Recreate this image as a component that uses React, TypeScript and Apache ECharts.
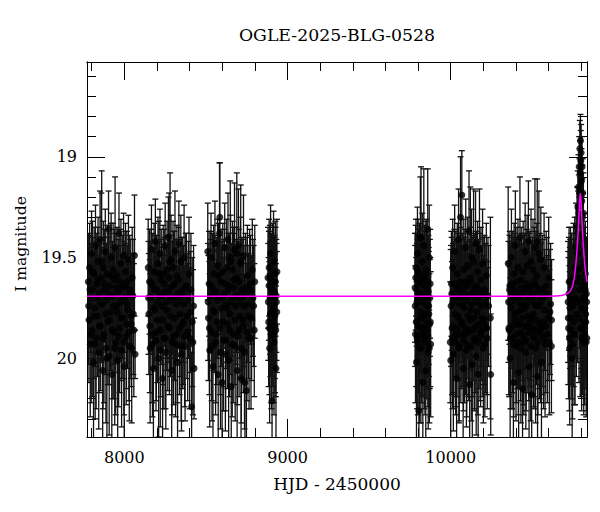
import React, { useEffect, useRef } from "react";
import * as echarts from "echarts";

// [HJD-2450000, I mag, error]
const season1 = [[7779,19.62,0.24],[7783,19.81,0.31],[7787,19.55,0.22],[7791,19.93,0.36],[7795,19.70,0.27],[7799,19.48,0.21],[7803,19.86,0.33],[7807,19.66,0.26],[7811,20.02,0.40],[7815,19.58,0.23],[7819,19.75,0.29],[7823,19.44,0.20],[7827,19.90,0.35],[7831,19.63,0.25],[7835,19.79,0.30],[7839,19.52,0.22],[7843,19.97,0.38],[7847,19.68,0.27],[7851,19.41,0.24],[7855,19.84,0.32],[7859,19.60,0.42],[7863,19.73,0.28],[7867,20.06,0.42],[7871,19.55,0.23],[7875,19.88,0.34],[7879,19.66,0.26],[7883,19.47,0.21],[7887,19.95,0.37],[7891,19.71,0.28],[7895,19.58,0.24],[7899,19.82,0.31],[7903,19.36,0.19],[7907,19.99,0.39],[7911,19.64,0.26],[7915,19.77,0.29],[7919,19.50,0.22],[7923,20.08,0.43],[7927,19.69,0.27],[7931,19.56,0.23],[7935,19.87,0.33],[7939,19.61,0.25],[7943,19.45,0.35],[7947,19.92,0.36],[7951,19.74,0.28],[7955,19.59,0.24],[7959,20.01,0.40],[7963,19.67,0.26],[7967,19.38,0.20],[7971,19.85,0.32],[7975,19.72,0.28],[7979,19.53,0.22],[7983,19.96,0.38],[7987,19.65,0.26],[7991,19.80,0.30],[7995,19.49,0.21],[7999,20.04,0.41],[8003,19.70,0.27],[8007,19.57,0.24],[8011,19.89,0.34],[8015,19.62,0.25],[8020,19.76,0.29],[8025,19.51,0.22],[8030,19.94,0.37],[8036,19.68,0.27],[8042,19.83,0.31],[8048,19.60,0.25],[8055,19.78,0.30],[8062,19.49,0.30],[8066,19.98,0.12]];
const season1b = [[7781,19.74,0.29],[7789,19.66,0.27],[7797,19.88,0.34],[7805,19.57,0.25],[7813,19.79,0.31],[7821,19.93,0.37],[7829,19.70,0.28],[7837,19.61,0.26],[7845,19.84,0.33],[7853,19.72,0.29],[7861,19.52,0.45],[7869,19.90,0.35],[7877,19.63,0.27],[7885,19.78,0.30],[7893,20.00,0.40],[7901,19.68,0.28],[7909,19.81,0.32],[7917,19.59,0.26],[7925,19.86,0.34],[7933,19.74,0.29],[7941,19.95,0.38],[7949,19.65,0.27],[7957,19.77,0.30],[7965,19.89,0.35],[7973,19.62,0.26],[7981,19.80,0.31],[7989,19.71,0.29],[7997,19.92,0.36],[8005,19.64,0.27],[8013,19.83,0.32],[8018,19.73,0.29],[8028,19.87,0.34],[8033,19.66,0.27],[8040,19.79,0.31],[8045,19.95,0.37],[8052,19.69,0.28],[8058,19.86,0.33]];
const season2 = [[8146,19.55,0.24],[8150,19.78,0.30],[8154,19.62,0.26],[8158,19.95,0.37],[8162,19.70,0.28],[8166,19.46,0.22],[8170,19.88,0.34],[8174,19.64,0.26],[8178,20.05,0.41],[8182,19.57,0.24],[8186,19.76,0.29],[8190,19.42,0.21],[8194,19.91,0.35],[8198,19.66,0.27],[8202,19.81,0.31],[8206,19.53,0.23],[8210,20.00,0.39],[8214,19.69,0.27],[8218,19.48,0.22],[8222,19.86,0.33],[8226,19.61,0.25],[8230,19.74,0.29],[8234,20.10,0.44],[8238,19.58,0.24],[8242,19.90,0.35],[8246,19.67,0.27],[8250,19.44,0.21],[8254,19.97,0.38],[8258,19.72,0.28],[8262,19.56,0.24],[8266,19.84,0.32],[8270,19.40,0.20],[8274,19.60,0.42],[8278,19.65,0.26],[8282,19.79,0.30],[8286,19.51,0.22],[8290,20.06,0.42],[8294,19.70,0.28],[8298,19.55,0.23],[8302,19.89,0.34],[8306,19.63,0.26],[8310,19.47,0.30],[8314,19.93,0.36],[8318,19.73,0.28],[8322,19.59,0.25],[8326,20.02,0.40],[8330,19.68,0.27],[8334,19.43,0.21],[8338,19.85,0.33],[8342,19.71,0.28],[8346,19.52,0.23],[8350,19.98,0.38],[8355,19.66,0.26],[8360,19.82,0.31],[8366,19.50,0.26],[8372,19.94,0.37],[8380,19.64,0.26],[8388,19.87,0.34],[8396,19.58,0.28],[8404,19.77,0.30],[8412,20.24,0.27],[8420,19.92,0.36],[8427,20.05,0.25]];
const season2b = [[8148,19.70,0.28],[8156,19.84,0.33],[8164,19.62,0.26],[8172,19.93,0.36],[8180,19.75,0.30],[8188,19.66,0.27],[8196,19.87,0.34],[8204,19.72,0.29],[8212,19.58,0.26],[8220,19.96,0.38],[8228,19.69,0.28],[8236,19.81,0.32],[8244,19.63,0.27],[8252,19.90,0.35],[8260,19.76,0.30],[8268,19.67,0.28],[8276,19.85,0.33],[8280,19.52,0.44],[8284,19.71,0.29],[8292,19.92,0.36],[8300,19.64,0.27],[8308,19.80,0.31],[8316,19.70,0.29],[8324,19.88,0.34],[8332,19.61,0.26],[8340,19.78,0.31],[8348,19.94,0.37],[8352,19.68,0.28],[8358,19.83,0.32],[8363,19.73,0.29],[8369,19.89,0.35],[8376,19.65,0.27],[8384,19.79,0.31],[8392,19.71,0.29],[8400,19.90,0.35],[8408,19.66,0.28],[8416,19.82,0.32],[8424,19.74,0.30]];
const season3 = [[8511,19.47,0.24],[8515,19.80,0.31],[8519,19.63,0.26],[8523,19.96,0.38],[8527,19.69,0.28],[8531,19.50,0.22],[8535,19.87,0.34],[8539,19.65,0.27],[8543,20.04,0.41],[8547,19.58,0.24],[8551,19.77,0.30],[8555,19.43,0.21],[8559,19.92,0.36],[8563,19.67,0.27],[8567,19.82,0.31],[8571,19.54,0.23],[8575,20.08,0.42],[8579,19.70,0.28],[8583,19.38,0.35],[8587,19.85,0.33],[8591,19.62,0.26],[8595,19.75,0.29],[8599,20.12,0.45],[8603,19.57,0.24],[8607,19.91,0.35],[8611,19.68,0.27],[8615,19.45,0.22],[8619,19.98,0.38],[8623,19.73,0.29],[8627,19.55,0.24],[8631,19.83,0.32],[8635,19.41,0.23],[8639,20.01,0.40],[8643,19.64,0.26],[8647,19.78,0.30],[8651,19.52,0.23],[8655,20.14,0.45],[8659,19.71,0.28],[8663,19.56,0.24],[8667,19.88,0.34],[8671,19.61,0.26],[8675,19.46,0.33],[8679,19.94,0.37],[8683,19.74,0.29],[8687,19.60,0.25],[8691,20.06,0.42],[8695,19.69,0.27],[8699,19.44,0.28],[8703,19.86,0.33],[8707,19.72,0.28],[8711,19.53,0.23],[8715,20.10,0.44],[8720,19.66,0.26],[8725,19.81,0.31],[8730,19.49,0.30],[8736,19.97,0.38],[8742,19.65,0.27],[8748,20.16,0.46],[8754,19.59,0.25],[8760,19.79,0.31],[8768,19.63,0.27],[8776,19.90,0.35],[8784,19.56,0.25],[8792,19.74,0.30],[8799,19.62,0.28]];
const season3b = [[8513,19.72,0.29],[8521,19.85,0.33],[8529,19.64,0.27],[8537,19.94,0.37],[8545,19.76,0.30],[8553,19.67,0.28],[8561,19.88,0.34],[8569,19.71,0.29],[8577,19.59,0.26],[8585,19.30,0.27],[8589,19.97,0.38],[8597,19.70,0.28],[8605,19.82,0.32],[8613,19.63,0.27],[8621,19.91,0.35],[8629,19.75,0.30],[8637,19.66,0.28],[8645,19.86,0.33],[8649,19.50,0.38],[8653,19.72,0.29],[8661,19.93,0.36],[8669,19.65,0.27],[8677,19.81,0.32],[8685,19.69,0.28],[8689,19.48,0.40],[8693,19.89,0.34],[8701,19.62,0.26],[8709,19.79,0.31],[8713,19.52,0.38],[8717,19.95,0.37],[8722,19.70,0.29],[8728,19.84,0.33],[8733,19.74,0.30],[8739,20.12,0.42],[8745,19.68,0.28],[8751,19.87,0.34],[8757,19.73,0.29],[8764,19.90,0.35],[8772,19.66,0.27],[8780,19.80,0.31],[8788,19.70,0.29],[8796,19.86,0.33]];
const season4 = [[8880,19.60,0.25],[8884,19.82,0.32],[8887,19.55,0.24],[8890,19.95,0.37],[8893,19.70,0.28],[8896,19.48,0.24],[8899,19.88,0.34],[8902,19.65,0.27],[8905,20.21,0.45],[8908,19.58,0.25],[8911,19.76,0.30],[8914,19.52,0.25],[8917,19.92,0.36],[8920,19.68,0.28],[8923,19.84,0.33],[8926,19.62,0.27],[8929,20.05,0.41],[8932,19.72,0.29],[8935,19.57,0.26]];
const season4b = [[8882,19.72,0.29],[8886,19.64,0.27],[8889,19.85,0.33],[8892,19.60,0.26],[8895,19.78,0.31],[8898,19.70,0.28],[8901,19.90,0.35],[8904,19.66,0.27],[8907,19.82,0.32],[8910,19.62,0.27],[8913,19.74,0.30],[8916,19.88,0.34],[8919,19.67,0.28],[8922,19.79,0.31],[8925,19.58,0.26],[8928,19.86,0.33],[8931,19.69,0.28],[8934,19.77,0.30]];
const season5 = [[9781,19.65,0.27],[9784,19.88,0.34],[9787,19.55,0.24],[9790,20.02,0.40],[9793,19.72,0.29],[9796,19.48,0.23],[9799,19.92,0.36],[9802,19.62,0.26],[9805,20.26,0.45],[9808,19.58,0.25],[9811,19.80,0.31],[9814,19.40,0.30],[9817,19.95,0.37],[9820,19.68,0.28],[9823,19.85,0.33],[9826,19.52,0.24],[9829,20.12,0.44],[9832,19.70,0.28],[9835,19.44,0.38],[9838,19.90,0.35],[9841,19.60,0.26],[9844,19.78,0.30],[9847,20.06,0.42],[9850,19.56,0.25],[9853,19.86,0.34],[9856,19.66,0.27],[9859,19.36,0.30],[9862,19.97,0.38],[9865,19.74,0.29],[9868,19.50,0.26],[9871,19.83,0.32],[9874,19.63,0.27],[9877,19.93,0.36]];
const season5b = [[9782,19.74,0.30],[9785,19.60,0.26],[9788,19.82,0.32],[9791,19.66,0.28],[9794,19.90,0.35],[9797,19.70,0.29],[9800,19.57,0.26],[9803,19.84,0.33],[9806,19.68,0.28],[9809,19.95,0.37],[9812,19.63,0.27],[9815,19.77,0.30],[9818,19.40,0.35],[9821,19.88,0.34],[9824,19.72,0.29],[9827,19.61,0.26],[9830,19.86,0.33],[9833,19.69,0.28],[9836,19.80,0.31],[9839,19.64,0.27],[9842,19.92,0.36],[9845,19.71,0.29],[9848,19.58,0.26],[9851,19.83,0.32],[9854,19.74,0.30],[9857,19.62,0.27],[9860,19.89,0.35],[9863,19.67,0.28],[9866,19.78,0.31],[9869,19.95,0.37],[9872,19.70,0.29],[9875,19.82,0.32]];
const season6 = [[9997,19.92,0.30],[10000,20.01,0.55],[10004,19.63,0.26],[10008,19.85,0.33],[10012,19.55,0.24],[10016,19.98,0.38],[10020,19.70,0.28],[10024,19.47,0.23],[10028,19.89,0.35],[10032,19.64,0.27],[10036,20.10,0.44],[10040,19.58,0.25],[10044,19.79,0.31],[10048,19.41,0.25],[10052,19.94,0.37],[10056,19.67,0.28],[10060,19.30,0.30],[10064,19.83,0.32],[10068,19.19,0.22],[10072,19.73,0.29],[10076,20.05,0.42],[10080,19.56,0.25],[10084,19.88,0.34],[10088,19.62,0.26],[10092,19.45,0.24],[10096,19.96,0.38],[10100,19.71,0.29],[10104,19.54,0.24],[10108,19.86,0.33],[10112,19.37,0.30],[10116,20.13,0.45],[10120,19.60,0.45],[10124,19.76,0.30],[10128,19.50,0.24],[10132,20.03,0.41],[10136,19.68,0.28],[10140,19.52,0.36],[10144,19.91,0.35],[10148,19.65,0.27],[10152,19.43,0.26],[10156,19.99,0.39],[10160,19.72,0.29],[10164,19.57,0.25],[10168,20.08,0.43],[10172,19.69,0.28],[10176,19.46,0.30],[10180,19.87,0.34],[10185,19.61,0.26],[10190,19.80,0.31],[10195,19.53,0.27],[10200,19.95,0.37],[10206,19.66,0.27],[10212,19.84,0.33],[10218,19.59,0.26],[10224,19.90,0.35],[10232,19.74,0.30],[10243,19.80,0.50],[10245,20.08,0.30]];
const season6b = [[10002,19.74,0.30],[10006,19.68,0.28],[10010,19.90,0.35],[10014,19.72,0.29],[10018,19.84,0.33],[10022,19.63,0.27],[10026,19.78,0.31],[10030,19.92,0.36],[10034,19.70,0.29],[10038,19.86,0.33],[10042,19.66,0.28],[10046,19.80,0.31],[10050,19.95,0.37],[10054,19.73,0.29],[10058,19.62,0.27],[10062,19.88,0.34],[10066,19.70,0.29],[10070,19.82,0.32],[10074,19.65,0.27],[10078,19.91,0.35],[10082,19.75,0.30],[10086,19.68,0.28],[10090,19.85,0.33],[10094,19.71,0.29],[10098,19.93,0.36],[10102,19.64,0.27],[10106,19.79,0.31],[10110,19.87,0.34],[10114,19.69,0.28],[10118,19.81,0.32],[10122,19.62,0.27],[10126,19.94,0.37],[10130,19.73,0.29],[10134,19.86,0.33],[10138,19.67,0.28],[10142,19.80,0.31],[10146,19.90,0.35],[10150,19.70,0.29],[10154,19.84,0.33],[10158,19.64,0.27],[10162,19.77,0.30],[10166,19.92,0.36],[10170,19.71,0.29],[10174,19.83,0.32],[10178,19.66,0.28],[10183,19.89,0.35],[10188,19.74,0.30],[10193,19.86,0.33],[10198,19.68,0.28],[10203,19.81,0.32],[10209,19.93,0.36],[10215,19.72,0.29],[10221,19.85,0.33],[10228,19.69,0.29]];
const season7 = [[10352,19.53,0.38],[10356,19.85,0.33],[10360,19.66,0.27],[10364,20.00,0.40],[10368,19.72,0.29],[10372,19.50,0.24],[10376,19.90,0.35],[10380,19.63,0.26],[10384,20.12,0.44],[10388,19.58,0.25],[10392,19.78,0.31],[10396,19.44,0.27],[10400,19.94,0.37],[10404,19.68,0.28],[10408,19.83,0.32],[10412,19.55,0.24],[10416,20.07,0.42],[10420,19.71,0.29],[10424,19.40,0.30],[10428,19.87,0.34],[10432,19.61,0.26],[10436,19.76,0.30],[10440,20.15,0.46],[10444,19.57,0.25],[10448,19.92,0.36],[10452,19.65,0.27],[10456,19.47,0.24],[10460,19.97,0.38],[10464,19.73,0.29],[10468,19.54,0.25],[10472,19.84,0.33],[10476,19.42,0.30],[10480,20.04,0.41],[10484,19.64,0.27],[10488,19.80,0.31],[10492,19.52,0.26],[10496,20.18,0.47],[10500,19.70,0.28],[10504,19.56,0.25],[10508,19.89,0.35],[10512,19.62,0.27],[10516,19.45,0.34],[10520,19.95,0.37],[10524,19.74,0.30],[10528,19.59,0.26],[10532,20.09,0.43],[10536,19.67,0.28],[10540,19.48,0.31],[10544,19.86,0.34],[10548,19.71,0.29],[10552,19.51,0.26],[10556,20.02,0.40],[10561,19.66,0.27],[10566,19.82,0.32],[10572,19.55,0.27],[10578,19.93,0.36],[10585,19.64,0.27],[10592,19.88,0.34],[10600,19.60,0.30],[10608,19.77,0.31],[10617,19.94,0.33],[10618,19.81,0.30]];
const season7b = [[10354,19.72,0.30],[10358,19.86,0.33],[10362,19.64,0.27],[10366,19.90,0.35],[10370,19.75,0.30],[10374,19.68,0.28],[10378,19.84,0.33],[10382,19.71,0.29],[10386,19.93,0.36],[10390,19.66,0.28],[10394,19.81,0.32],[10398,19.70,0.29],[10402,19.88,0.34],[10406,19.62,0.27],[10410,19.77,0.30],[10414,19.92,0.36],[10418,19.69,0.28],[10422,19.83,0.32],[10426,19.73,0.30],[10430,19.95,0.37],[10434,19.65,0.27],[10438,19.80,0.31],[10442,19.72,0.29],[10446,19.89,0.34],[10450,19.67,0.28],[10454,19.84,0.33],[10458,19.75,0.30],[10462,19.91,0.35],[10466,19.63,0.27],[10470,19.79,0.31],[10474,19.70,0.29],[10478,19.87,0.34],[10482,19.66,0.28],[10486,19.82,0.32],[10490,19.94,0.37],[10494,19.71,0.29],[10498,19.85,0.33],[10502,19.68,0.28],[10506,19.78,0.31],[10510,19.90,0.35],[10514,19.73,0.30],[10518,19.86,0.33],[10522,19.64,0.27],[10526,19.81,0.32],[10530,19.42,0.31],[10534,19.92,0.36],[10538,19.74,0.30],[10542,19.83,0.32],[10546,19.66,0.28],[10550,19.88,0.34],[10554,19.72,0.29],[10558,19.85,0.33],[10564,19.70,0.29],[10569,19.90,0.35],[10575,19.76,0.30],[10582,19.84,0.33],[10589,19.68,0.28],[10596,19.80,0.31],[10604,19.92,0.36],[10612,19.73,0.30]];
const season8 = [[10719,19.72,0.30],[10722,19.85,0.35],[10725,19.62,0.27],[10729,19.95,0.38],[10732,19.70,0.29],[10736,19.80,0.33],[10740,19.66,0.28],[10744,20.00,0.40],[10748,19.74,0.30],[10752,19.60,0.27],[10756,19.88,0.35],[10760,19.55,0.25],[10764,19.70,0.29],[10768,19.45,0.22],[10771,19.60,0.26],[10774,19.35,0.20],[10777,19.48,0.24],[10779,19.25,0.18],[10781,19.38,0.21],[10783,19.15,0.16],[10785,19.28,0.19],[10787,19.05,0.15],[10789,19.18,0.17],[10791,18.96,0.14],[10793,19.08,0.16],[10795,18.92,0.13],[10796,19.55,0.25],[10797,19.02,0.15],[10799,18.98,0.14],[10800,19.75,0.30],[10801,19.12,0.16],[10803,19.22,0.18],[10804,19.62,0.28],[10805,19.05,0.15],[10807,19.30,0.19],[10808,19.85,0.33],[10809,19.18,0.17],[10811,19.40,0.22],[10812,19.70,0.30],[10813,19.28,0.20],[10815,19.92,0.36],[10816,19.52,0.24],[10819,19.62,0.27],[10822,19.75,0.30],[10825,19.58,0.26],[10828,19.82,0.33],[10831,19.68,0.28],[10834,19.90,0.36]];
const season8b = [[10720,19.80,0.33],[10724,19.68,0.28],[10727,19.90,0.36],[10730,19.75,0.30],[10734,19.62,0.27],[10738,19.86,0.34],[10742,19.72,0.29],[10746,19.93,0.37],[10750,19.66,0.28],[10754,19.82,0.32],[10758,19.70,0.29],[10762,19.88,0.35],[10766,19.62,0.27],[10770,19.78,0.31],[10775,19.56,0.26],[10778,19.72,0.30],[10782,19.60,0.27],[10786,19.80,0.32],[10790,19.66,0.29],[10794,19.85,0.34],[10798,19.72,0.30],[10802,19.90,0.36],[10806,19.76,0.31],[10810,19.64,0.28],[10814,19.82,0.33],[10818,19.70,0.30],[10821,19.88,0.35],[10824,19.66,0.28],[10827,19.78,0.31],[10830,19.92,0.37],[10833,19.72,0.30]];

// model curve [HJD-2450000, I mag]
const modelCurve = [[7771,19.692],[10600,19.692],[10680,19.688],[10710,19.68],[10730,19.668],[10745,19.645],[10757,19.6],[10766,19.54],[10774,19.46],[10780,19.38],[10785,19.3],[10789,19.23],[10792,19.195],[10794,19.182],[10796,19.195],[10799,19.23],[10803,19.3],[10808,19.38],[10814,19.46],[10822,19.54],[10831,19.6],[10835,19.62]];

const xMajorTicks = [8000, 9000, 10000];
const xMinorTicks = [7800, 8200, 8400, 8600, 8800, 9200, 9400, 9600, 9800, 10200, 10400, 10600, 10800];
const yMajorTicks = [19, 19.5, 20];
const yMinorTicks = [18.6, 18.7, 18.8, 18.9, 19.1, 19.2, 19.3, 19.4, 19.6, 19.7, 19.8, 19.9, 20.1, 20.2, 20.3];

const titleText = "OGLE-2025-BLG-0528";
const xName = "HJD - 2450000";
const yName = "I magnitude";

const FONT = "DejaVu Serif";
const XMIN = 7771, XMAX = 10835, YMIN = 18.53, YMAX = 20.39;

function xAxisCfg(position: string, values: number[], len: number, labels: boolean) {
  return {
    type: "value", position, min: XMIN, max: XMAX, gridIndex: 0,
    axisLine: { show: true, onZero: false, lineStyle: { color: "#000", width: 1 } },
    axisTick: { show: true, inside: true, length: len, customValues: values, lineStyle: { color: "#000", width: 1 } },
    axisLabel: labels
      ? { show: true, customValues: values, color: "#000", fontFamily: FONT, fontSize: 16, margin: 12, formatter: (v: number) => String(v) }
      : { show: false },
    splitLine: { show: false },
  };
}
function yAxisCfg(position: string, values: number[], len: number, labels: boolean) {
  return {
    type: "value", position, min: YMIN, max: YMAX, inverse: true, gridIndex: 0,
    axisLine: { show: true, onZero: false, lineStyle: { color: "#000", width: 1 } },
    axisTick: { show: true, inside: true, length: len, customValues: values, lineStyle: { color: "#000", width: 1 } },
    axisLabel: labels
      ? { show: true, customValues: values, color: "#000", fontFamily: FONT, fontSize: 16, margin: 10, formatter: (v: number) => String(v) }
      : { show: false },
    splitLine: { show: false },
  };
}

export default function App() {
  const ref = useRef<HTMLDivElement>(null);
  useEffect(() => {
    if (!ref.current) return;
    const chart = echarts.init(ref.current, null, { renderer: "svg" });
    const all = [
      ...season1, ...season1b, ...season2, ...season2b, ...season3, ...season3b,
      ...season4, ...season4b, ...season5, ...season5b, ...season6, ...season6b,
      ...season7, ...season7b, ...season8, ...season8b,
    ];
    const option = {
      animation: false,
      backgroundColor: "#fff",
      grid: { left: 87, right: 13, top: 62, bottom: 75, containLabel: false },
      xAxis: [
        xAxisCfg("bottom", xMajorTicks, 18, true),
        xAxisCfg("bottom", xMinorTicks, 9, false),
        xAxisCfg("top", xMajorTicks, 18, false),
        xAxisCfg("top", xMinorTicks, 9, false),
      ],
      yAxis: [
        yAxisCfg("left", yMajorTicks, 18, true),
        yAxisCfg("left", yMinorTicks, 9, false),
        yAxisCfg("right", yMajorTicks, 18, false),
        yAxisCfg("right", yMinorTicks, 9, false),
      ],
      graphic: [
        { type: "text", x: 337, y: 35, style: { text: titleText, fill: "#000", font: `17.3px "${FONT}"`, textAlign: "center", textVerticalAlign: "middle" } },
        { type: "text", x: 337, y: 484, style: { text: xName, fill: "#000", font: `17px "${FONT}"`, textAlign: "center", textVerticalAlign: "middle" } },
        { type: "text", x: 21, y: 244, rotation: Math.PI / 2, style: { text: yName, fill: "#000", font: `15.6px "${FONT}"`, textAlign: "center", textVerticalAlign: "middle" } },
      ],
      series: [
        {
          type: "custom",
          xAxisIndex: 0, yAxisIndex: 0,
          clip: true,
          data: all,
          encode: { x: 0, y: 1 },
          renderItem: (params: any, api: any) => {
            const t = api.value(0), m = api.value(1), e = api.value(2);
            const a = api.coord([t, m - e]);
            const b = api.coord([t, m + e]);
            const st = { stroke: "#111", lineWidth: 1.3 };
            return {
              type: "group",
              children: [
                { type: "line", shape: { x1: a[0], y1: a[1], x2: b[0], y2: b[1] }, style: st },
                { type: "line", shape: { x1: a[0] - 3, y1: a[1], x2: a[0] + 3, y2: a[1] }, style: st },
                { type: "line", shape: { x1: b[0] - 3, y1: b[1], x2: b[0] + 3, y2: b[1] }, style: st },
              ],
            };
          },
          z: 2,
        },
        {
          type: "scatter",
          xAxisIndex: 0, yAxisIndex: 0,
          data: all.map((d) => [d[0], d[1]]),
          symbol: "circle",
          symbolSize: 7,
          itemStyle: { color: "#000" },
          clip: true,
          z: 3,
        },
        {
          type: "line",
          xAxisIndex: 0, yAxisIndex: 0,
          data: modelCurve,
          showSymbol: false,
          smooth: 0.3,
          lineStyle: { color: "#ff00ff", width: 1.5 },
          clip: true,
          z: 4,
        },
      ],
    };
    chart.setOption(option as any);
    return () => chart.dispose();
  }, []);
  return <div ref={ref} style={{ width: 600, height: 512, position: "absolute", left: 0, top: 0 }} />;
}
